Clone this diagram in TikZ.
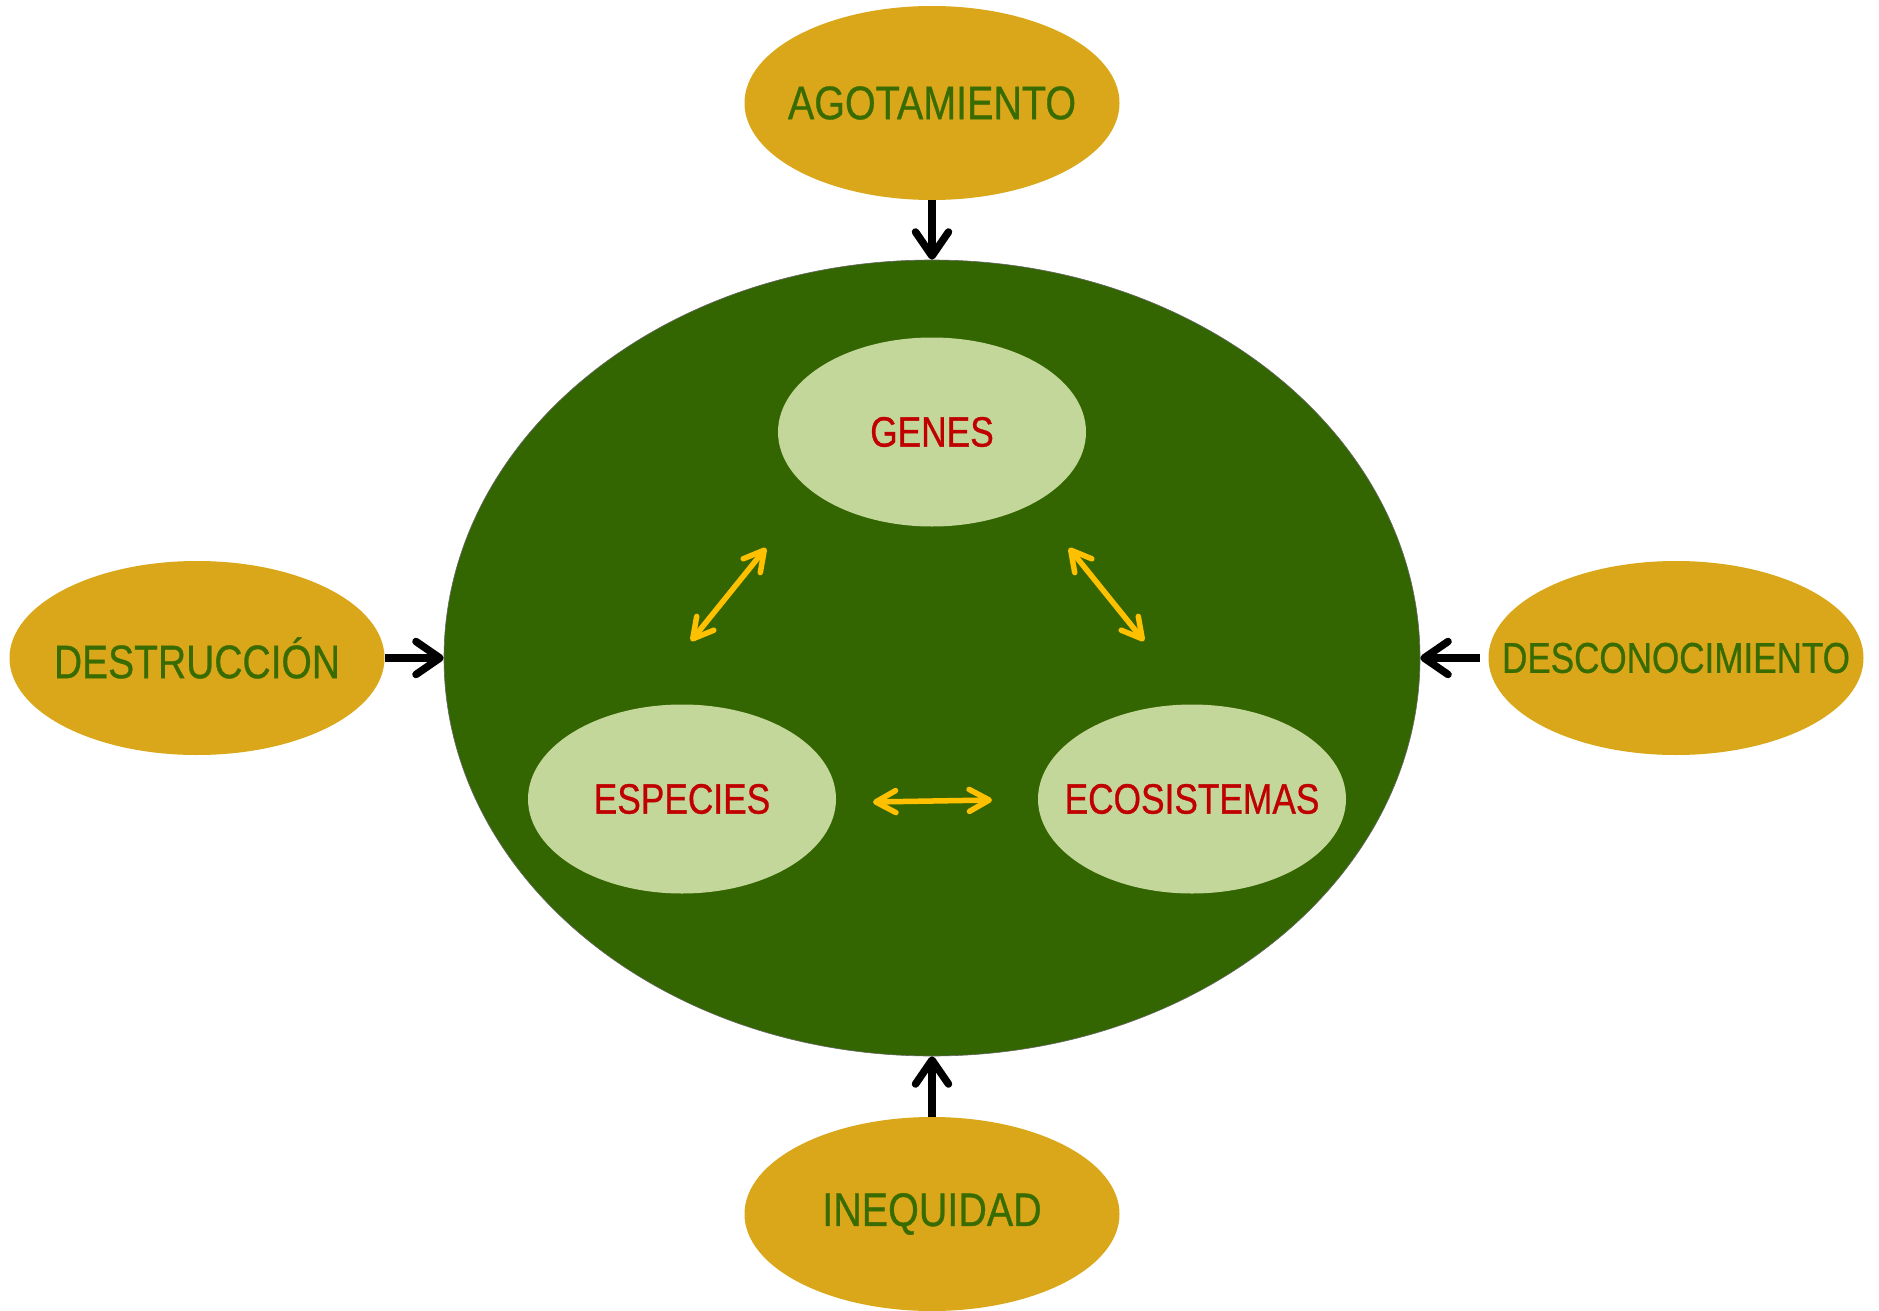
\documentclass[tikz,border=0pt]{standalone}
\usepackage{fontspec}
\usepackage{graphicx}
\setmainfont{Liberation Sans}
\usetikzlibrary{shapes.geometric,arrows.meta}
\definecolor{gold}{HTML}{D9A719}
\definecolor{dgreen}{HTML}{336600}
\definecolor{lgreen}{HTML}{C4D79B}
\definecolor{dred}{HTML}{C00000}
\definecolor{ayellow}{HTML}{FFC000}
\definecolor{tgreen}{HTML}{386B00}
\newcommand{\ntxt}[2][0.84]{\makebox[0pt][c]{\special{pdf:code 2 Tr 0.35 w}\scalebox{#1}[1]{#2}\special{pdf:code 0 Tr}}}
\begin{document}
\begin{tikzpicture}[x=1pt,y=-1pt,
  outer/.style={ellipse,fill=gold,minimum width=375pt,minimum height=194pt,inner sep=0pt,
    text=tgreen,font=\fontsize{47}{50}\selectfont},
  inner/.style={ellipse,fill=lgreen,minimum width=308pt,minimum height=189pt,inner sep=0pt,
    text=dred,font=\fontsize{42.5}{46}\selectfont},
  big/.style={ellipse,fill=dgreen,draw=black!60,line width=0.6pt,minimum width=976pt,minimum height=796pt,inner sep=0pt},
  blk/.style={draw=black,line width=7.5pt,-{Straight Barb[length=24pt,width=33pt,line cap=round,line join=round]}},
  yel/.style={draw=ayellow,line width=5.5pt,{Straight Barb[length=20pt,width=22pt,line cap=round,line join=round]}-{Straight Barb[length=20pt,width=22pt,line cap=round,line join=round]}}
]
\useasboundingbox (0,0) rectangle (1879,1311);
\node[big] (bio) at (932,658) {};
\node[outer] (ago) at (932,103) {\ntxt{AGOTAMIENTO}};
\node[outer] (ine) at (932,1214) {\ntxt{INEQUIDAD}};
\node[outer] (des) at (197,658) {\ntxt[0.83]{DESTRUCCIÓN}};
\node[outer,font=\fontsize{43}{46}\selectfont] (dco) at (1676,658) {\ntxt[0.815]{DESCONOCIMIENTO}};
\node[inner] (gen) at (932,432) {\ntxt[0.83]{GENES}};
\node[inner] (esp) at (682,799) {\ntxt[0.83]{ESPECIES}};
\node[inner] (eco) at (1192,799) {\ntxt[0.83]{ECOSISTEMAS}};
\coordinate (ge1) at (766,548);
\coordinate (ge2) at (691,641);
\coordinate (gc1) at (1069,548);
\coordinate (gc2) at (1144,641);
\coordinate (ec1) at (873,802);
\coordinate (ec2) at (992,800);
\draw[blk] (ago.south) -- (bio.north);
\draw[blk] (ine.north) -- (bio.south);
\draw[blk] (des.east) -- (bio.west);
\draw[blk] (dco.west) ++(-8pt,0pt) coordinate (dcs) -- (bio.east);
\draw[yel] (ge1) -- (ge2);
\draw[yel] (gc1) -- (gc2);
\draw[yel] (ec1) -- (ec2);
\end{tikzpicture}
\end{document}
